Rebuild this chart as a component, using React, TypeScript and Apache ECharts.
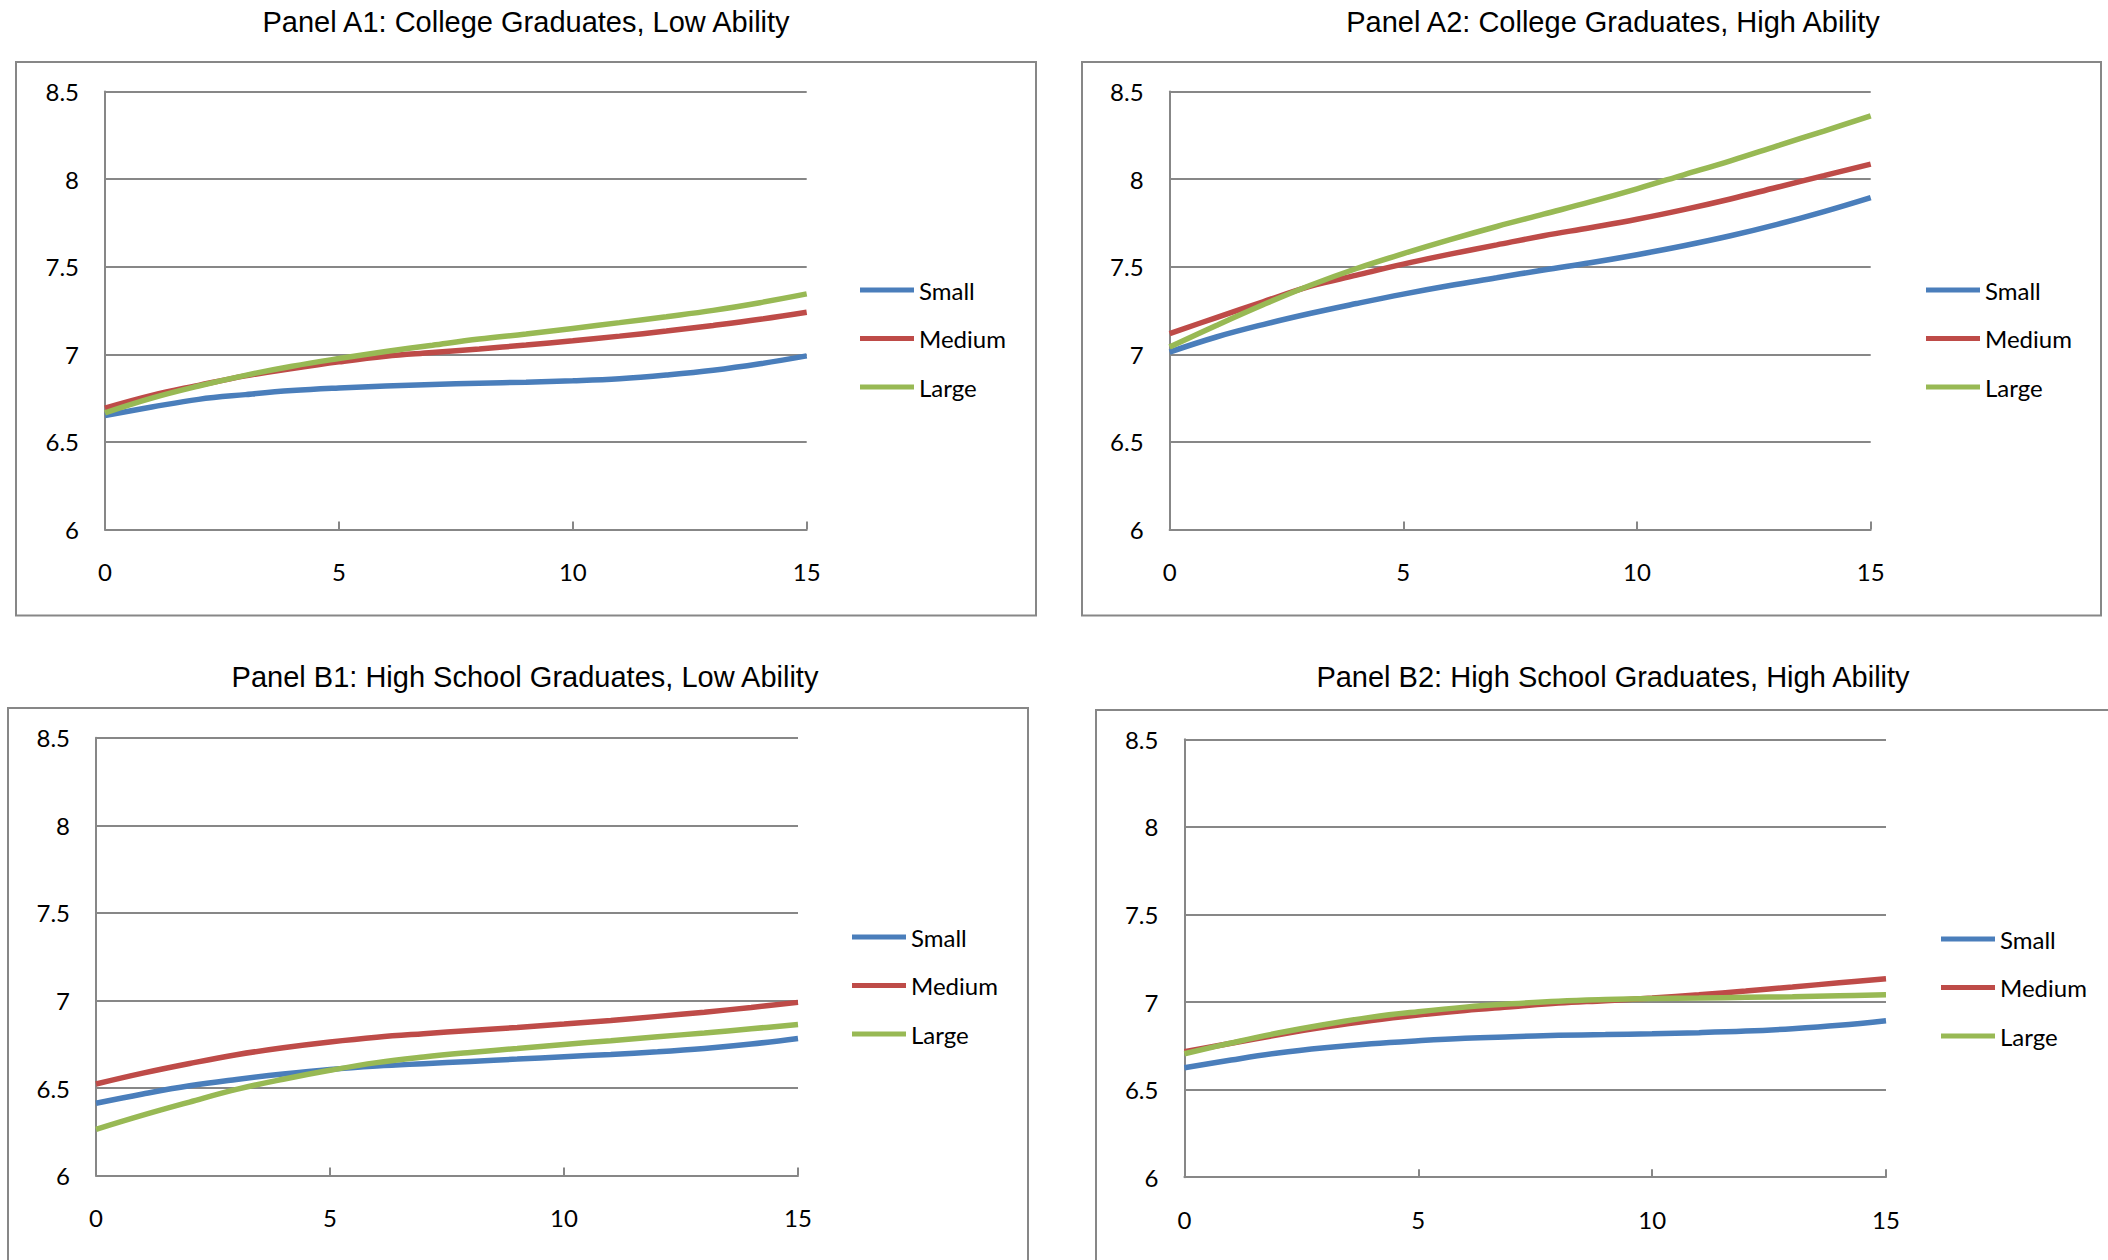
import React, { useEffect, useRef } from "react";
import * as echarts from "echarts";

// Experience (years) on the horizontal axis
const years = [0, 1, 2, 3, 4, 5, 6, 7, 8, 9, 10, 11, 12, 13, 14, 15];

const seriesNames = ["Small", "Medium", "Large"];
const seriesColors = ["#4A7EBB", "#BE4B48", "#98B954"];

const panelTitles = [
  "Panel A1: College Graduates, Low Ability",
  "Panel A2: College Graduates, High Ability",
  "Panel B1: High School Graduates, Low Ability",
  "Panel B2: High School Graduates, High Ability",
];

// Panel A1: College Graduates, Low Ability
const a1Small = [6.651, 6.699, 6.743, 6.770, 6.793, 6.808, 6.819, 6.828, 6.835, 6.841, 6.849, 6.861, 6.882, 6.909, 6.946, 6.991];
const a1Medium = [6.693, 6.766, 6.823, 6.877, 6.919, 6.957, 6.989, 7.010, 7.031, 7.053, 7.077, 7.104, 7.133, 7.165, 7.200, 7.240];
const a1Large = [6.666, 6.750, 6.819, 6.880, 6.932, 6.976, 7.016, 7.052, 7.087, 7.116, 7.148, 7.181, 7.215, 7.251, 7.295, 7.345];

// Panel A2: College Graduates, High Ability
const a2Small = [7.013, 7.099, 7.170, 7.233, 7.290, 7.344, 7.393, 7.437, 7.482, 7.523, 7.569, 7.620, 7.677, 7.742, 7.815, 7.895];
const a2Medium = [7.118, 7.210, 7.300, 7.388, 7.452, 7.515, 7.572, 7.625, 7.677, 7.723, 7.771, 7.826, 7.887, 7.954, 8.020, 8.086];
const a2Large = [7.042, 7.165, 7.283, 7.393, 7.490, 7.575, 7.655, 7.730, 7.800, 7.870, 7.945, 8.025, 8.105, 8.190, 8.275, 8.362];

// Panel B1: High School Graduates, Low Ability
const b1Small = [6.413, 6.466, 6.513, 6.549, 6.580, 6.606, 6.625, 6.639, 6.652, 6.665, 6.679, 6.692, 6.707, 6.726, 6.751, 6.783];
const b1Medium = [6.523, 6.585, 6.640, 6.690, 6.730, 6.763, 6.790, 6.810, 6.828, 6.846, 6.865, 6.886, 6.909, 6.933, 6.960, 6.989];
const b1Large = [6.264, 6.345, 6.420, 6.492, 6.550, 6.601, 6.645, 6.677, 6.703, 6.726, 6.749, 6.770, 6.793, 6.814, 6.838, 6.863];

// Panel B2: High School Graduates, High Ability
const b2Small = [6.625, 6.669, 6.709, 6.739, 6.762, 6.779, 6.793, 6.802, 6.810, 6.814, 6.819, 6.825, 6.834, 6.848, 6.867, 6.893];
const b2Medium = [6.717, 6.765, 6.813, 6.857, 6.895, 6.926, 6.952, 6.973, 6.994, 7.008, 7.023, 7.042, 7.063, 7.086, 7.110, 7.133];
const b2Large = [6.705, 6.766, 6.823, 6.872, 6.914, 6.945, 6.971, 6.990, 7.005, 7.014, 7.020, 7.023, 7.027, 7.030, 7.036, 7.042];

const panelData = [
  [a1Small, a1Medium, a1Large],
  [a2Small, a2Medium, a2Large],
  [b1Small, b1Medium, b1Large],
  [b2Small, b2Medium, b2Large],
];

// Layout of each panel on the page (pixels)
const panelLayout = [
  { grid: { left: 105, top: 91.6, width: 701.7, height: 437.9 }, frame: { x: 16, y: 62, w: 1020, h: 553.5 }, title: { x: 526, y: 22 }, legend: { left: 860, top: 277 } },
  { grid: { left: 1169.6, top: 91.6, width: 701.1, height: 437.9 }, frame: { x: 1082, y: 62, w: 1019, h: 553.5 }, title: { x: 1613, y: 22 }, legend: { left: 1926, top: 277 } },
  { grid: { left: 96, top: 737.7, width: 702, height: 437.9 }, frame: { x: 8, y: 708, w: 1020, h: 600 }, title: { x: 525, y: 677 }, legend: { left: 852, top: 924 } },
  { grid: { left: 1184.4, top: 739.3, width: 701.6, height: 437.9 }, frame: { x: 1096, y: 710, w: 1100, h: 600 }, title: { x: 1613, y: 677 }, legend: { left: 1941, top: 926 } },
];

const AXIS_GRAY = "#878787";
const LABEL_FONT = "Lato";

function buildOption() {
  const grid: any[] = [];
  const xAxis: any[] = [];
  const yAxis: any[] = [];
  const series: any[] = [];
  const legend: any[] = [];
  const graphic: any[] = [];

  panelLayout.forEach((p, i) => {
    grid.push({ ...p.grid, containLabel: false });
    xAxis.push({
      type: "value",
      gridIndex: i,
      min: 0,
      max: 15,
      interval: 5,
      axisLine: { show: true, lineStyle: { color: AXIS_GRAY, width: 2 } },
      axisTick: { show: true, inside: true, length: 8, lineStyle: { color: AXIS_GRAY, width: 2 } },
      splitLine: { show: false },
      axisLabel: { margin: 30, color: "#000", fontFamily: LABEL_FONT, fontSize: 24 },
    });
    yAxis.push({
      type: "value",
      gridIndex: i,
      min: 6,
      max: 8.5,
      interval: 0.5,
      axisLine: { show: true, lineStyle: { color: AXIS_GRAY, width: 2 } },
      axisTick: { show: true, inside: true, length: 8, lineStyle: { color: AXIS_GRAY, width: 2 } },
      splitLine: { show: true, lineStyle: { color: AXIS_GRAY, width: 2 } },
      axisLabel: { margin: 26, color: "#000", fontFamily: LABEL_FONT, fontSize: 24 },
    });

    panelData[i].forEach((values, s) => {
      series.push({
        type: "line",
        name: seriesNames[s],
        xAxisIndex: i,
        yAxisIndex: i,
        data: years.map((x, k) => [x, values[k]]),
        smooth: 0.4,
        symbol: "none",
        lineStyle: { color: seriesColors[s], width: 5.5 },
        itemStyle: { color: seriesColors[s] },
        z: 3 + s,
      });
    });

    legend.push({
      data: seriesNames,
      orient: "vertical",
      left: p.legend.left,
      top: p.legend.top,
      padding: 0,
      icon: "rect",
      itemWidth: 54,
      itemHeight: 5,
      itemGap: 22.5,
      textStyle: { color: "#000", fontFamily: LABEL_FONT, fontSize: 24, lineHeight: 26 },
    });

    graphic.push({
      type: "rect",
      shape: { x: p.frame.x, y: p.frame.y, width: p.frame.w, height: p.frame.h },
      style: { fill: "none", stroke: AXIS_GRAY, lineWidth: 2 },
      silent: true,
      z: 0,
    });
    graphic.push({
      type: "text",
      x: p.title.x,
      y: p.title.y,
      style: {
        text: panelTitles[i],
        fill: "#000",
        font: '29px "Liberation Sans", Arial, sans-serif',
        textAlign: "center",
        align: "center",
        textVerticalAlign: "middle",
        verticalAlign: "middle",
      },
      silent: true,
    });
  });

  return {
    animation: false,
    backgroundColor: "#ffffff",
    grid,
    xAxis,
    yAxis,
    series,
    legend,
    graphic,
  };
}

export default function App() {
  const ref = useRef<HTMLDivElement>(null);

  useEffect(() => {
    if (!ref.current) return;
    const chart = echarts.init(ref.current, undefined, { renderer: "svg" });
    chart.setOption(buildOption());
    return () => {
      chart.dispose();
    };
  }, []);

  return (
    <div
      ref={ref}
      style={{ position: "absolute", left: 0, top: 0, width: 2108, height: 1260, background: "#fff" }}
    />
  );
}
